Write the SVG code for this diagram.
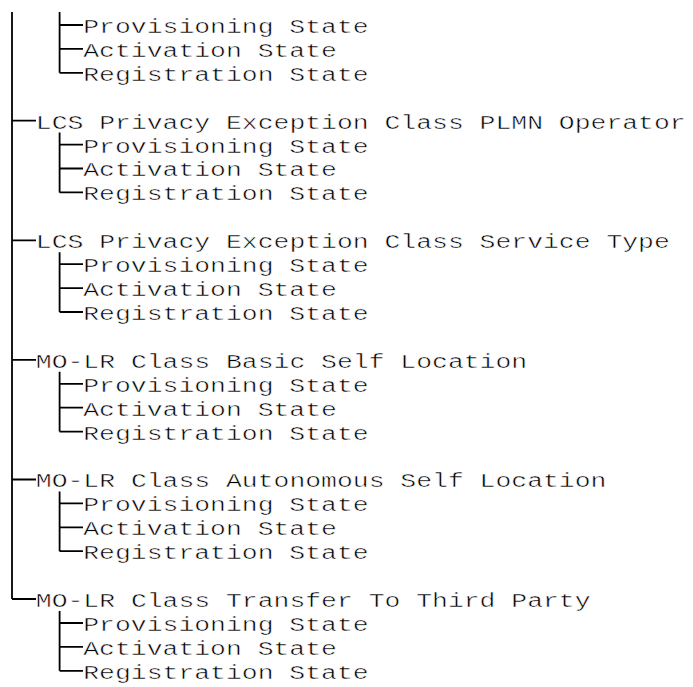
<svg xmlns="http://www.w3.org/2000/svg" width="693" height="687" viewBox="0 0 693 687">
<style>
text{font-family:"Liberation Mono","DejaVu Sans Mono",monospace;font-size:21px;fill:#000;stroke:#fff;stroke-width:0.5px;paint-order:normal}
.c path{stroke:#000;stroke-width:1.8;fill:none}
</style>
<rect width="693" height="687" fill="#fff"/>
<g class="c" id="connectors">
<path d="M12 12V599M12 120.7H36M12 240.3H36M12 359.9H36M12 479.5H36M12 599H36"/>
<path d="M59.6 12V72.8M59.6 25H83M59.6 48.9H83M59.6 72.8H83"/>
<path d="M59.6 132.6V192.4M59.6 144.6H83M59.6 168.5H83M59.6 192.4H83"/>
<path d="M59.6 252.2V312M59.6 264.2H83M59.6 288.1H83M59.6 312H83"/>
<path d="M59.6 371.8V431.6M59.6 383.8H83M59.6 407.7H83M59.6 431.6H83"/>
<path d="M59.6 491.4V551.2M59.6 503.4H83M59.6 527.3H83M59.6 551.2H83"/>
<path d="M59.6 611V670.8M59.6 623H83M59.6 646.9H83M59.6 670.8H83"/>
</g>
<g transform="translate(0,1) scale(1.258,1)">
<g id="n0">
<text x="66.2" y="32">Provisioning State</text>
<text x="66.2" y="55.9">Activation State</text>
<text x="66.2" y="79.8">Registration State</text>
</g>
<g id="n1">
<text x="28.46" y="127.7">LCS Privacy Exception Class PLMN Operator</text>
<text x="66.2" y="151.6">Provisioning State</text>
<text x="66.2" y="175.5">Activation State</text>
<text x="66.2" y="199.4">Registration State</text>
</g>
<g id="n2">
<text x="28.46" y="247.3">LCS Privacy Exception Class Service Type</text>
<text x="66.2" y="271.2">Provisioning State</text>
<text x="66.2" y="295.1">Activation State</text>
<text x="66.2" y="319">Registration State</text>
</g>
<g id="n3">
<text x="28.46" y="366.9">MO-LR Class Basic Self Location</text>
<text x="66.2" y="390.8">Provisioning State</text>
<text x="66.2" y="414.7">Activation State</text>
<text x="66.2" y="438.6">Registration State</text>
</g>
<g id="n4">
<text x="28.46" y="486.5">MO-LR Class Autonomous Self Location</text>
<text x="66.2" y="510.4">Provisioning State</text>
<text x="66.2" y="534.3">Activation State</text>
<text x="66.2" y="558.2">Registration State</text>
</g>
<g id="n5">
<text x="28.46" y="606">MO-LR Class Transfer To Third Party</text>
<text x="66.2" y="629.9">Provisioning State</text>
<text x="66.2" y="653.8">Activation State</text>
<text x="66.2" y="677.7">Registration State</text>
</g>
</g>
</svg>
